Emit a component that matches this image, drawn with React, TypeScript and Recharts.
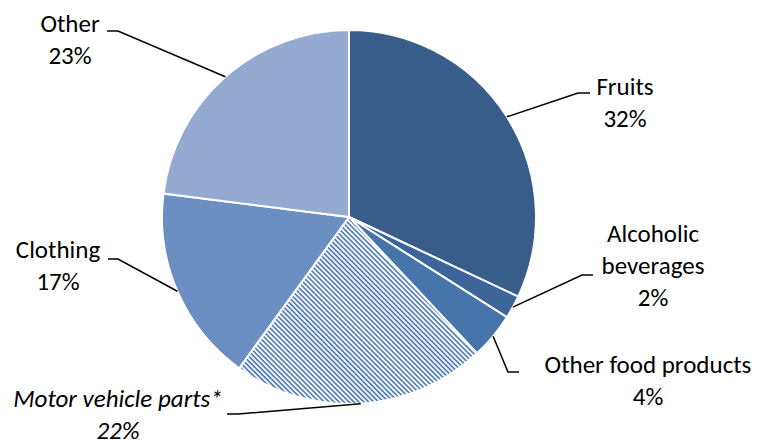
import { Cell, Pie, PieChart } from 'recharts';

const categories = [
  'Fruits',
  'Alcoholic beverages',
  'Other food products',
  'Motor vehicle parts*',
  'Clothing',
  'Other',
];
const shares = [32, 2, 4, 22, 17, 23];
const labelLines = [
  ['Fruits', '32%'],
  ['Alcoholic', 'beverages', '2%'],
  ['Other food products', '4%'],
  ['Motor vehicle parts*', '22%'],
  ['Clothing', '17%'],
  ['Other', '23%'],
];

const COLORS = ['#385d8a', '#3e659a', '#4675ab', 'url(#hatch)', '#6b8fc3', '#95aad1'];

// where Excel put each label: text centre/first baseline, then the elbow of the leader
const LABEL_LAYOUT = [
  { x: 625, y: 95, elbow: [578, 93], end: 590, italic: false },
  { x: 653, y: 242, elbow: [582, 275], end: 593, italic: false },
  { x: 648, y: 373, elbow: [508, 372], end: 519, italic: false },
  { x: 118, y: 407, elbow: [238, 414], end: 227, italic: true },
  { x: 58, y: 258, elbow: [118, 259], end: 108, italic: false },
  { x: 70, y: 32, elbow: [118, 31], end: 107, italic: false },
];

const data = categories.map((name, i) => ({ name, value: shares[i] }));

const RADIAN = Math.PI / 180;
const FONT = 'Carlito, Lato, sans-serif';

function SliceLabel(props: any) {
  const { cx, cy, midAngle, outerRadius, index } = props;
  const layout = LABEL_LAYOUT[index];
  const sx = cx + outerRadius * Math.cos(-midAngle * RADIAN);
  const sy = cy + outerRadius * Math.sin(-midAngle * RADIAN);
  const [ex, ey] = layout.elbow;
  return (
    <g>
      <polyline
        points={`${sx},${sy} ${ex},${ey} ${layout.end},${ey}`}
        fill="none"
        stroke="#000"
        strokeWidth={1.5}
      />
      <text
        x={layout.x}
        y={layout.y}
        textAnchor="middle"
        fontFamily={FONT}
        fontSize={25}
        fontStyle={layout.italic ? 'italic' : 'normal'}
        fill="#000"
      >
        {labelLines[index].map((line, j) => (
          <tspan key={j} x={layout.x} dy={j === 0 ? 0 : 32}>
            {line}
          </tspan>
        ))}
      </text>
    </g>
  );
}

export default function App() {
  return (
    <div style={{ position: 'absolute', left: 0, top: 0, width: 763, height: 445, background: '#fff' }}>
      <svg width={0} height={0} style={{ position: 'absolute' }}>
        <defs>
          <pattern
            id="hatch"
            patternUnits="userSpaceOnUse"
            width={3.5}
            height={3.5}
            patternTransform="rotate(-45)"
          >
            <rect width={3.5} height={3.5} fill="#fff" />
            <line x1={1} y1={0} x2={1} y2={3.5} stroke="#4472b4" strokeWidth={1.6} />
          </pattern>
        </defs>
      </svg>
      <PieChart width={763} height={445} margin={{ top: 0, right: 0, bottom: 0, left: 0 }}>
        <Pie
          data={data}
          dataKey="value"
          nameKey="name"
          cx={349}
          cy={217}
          outerRadius={187}
          startAngle={90}
          endAngle={-270}
          stroke="#fff"
          strokeWidth={2}
          label={SliceLabel}
          labelLine={false}
          isAnimationActive={false}
        >
          {data.map((d, i) => (
            <Cell key={d.name} fill={COLORS[i]} />
          ))}
        </Pie>
      </PieChart>
    </div>
  );
}
